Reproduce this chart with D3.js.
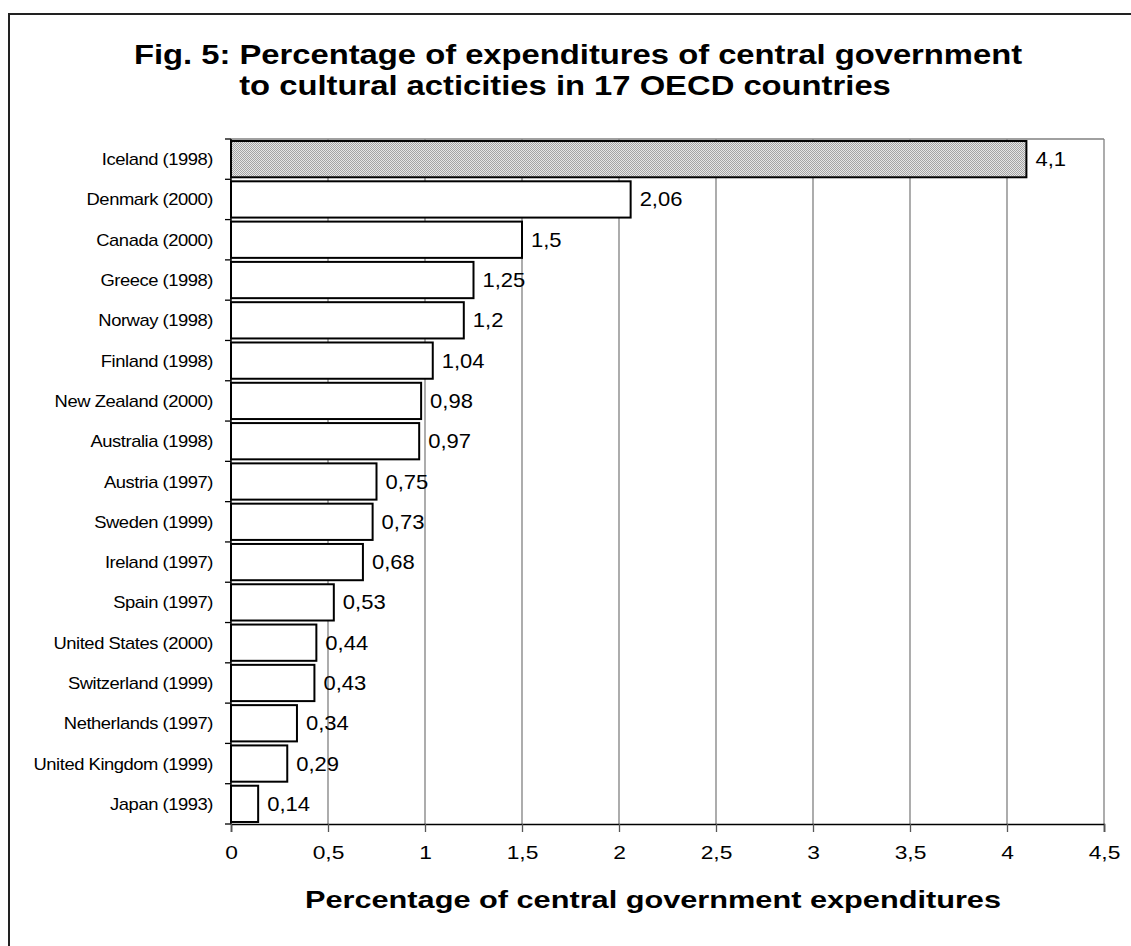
<!DOCTYPE html>
<html>
<head>
<meta charset="utf-8">
<script src="https://cdn.jsdelivr.net/npm/d3@7"></script>
<style>
  html, body { margin: 0; padding: 0; background: #fff; }
  svg { display: block; }
  text { font-family: "Liberation Sans", Arial, sans-serif; fill: #000; }
</style>
</head>
<body>
<svg id="chart" width="1131" height="946"></svg>
<script>
const countries = [
  "Iceland (1998)", "Denmark (2000)", "Canada (2000)", "Greece (1998)", "Norway (1998)",
  "Finland (1998)", "New Zealand (2000)", "Australia (1998)", "Austria (1997)", "Sweden (1999)",
  "Ireland (1997)", "Spain (1997)", "United States (2000)", "Switzerland (1999)",
  "Netherlands (1997)", "United Kingdom (1999)", "Japan (1993)"
];
const values = [4.1, 2.06, 1.5, 1.25, 1.2, 1.04, 0.98, 0.97, 0.75, 0.73, 0.68, 0.53, 0.44, 0.43, 0.34, 0.29, 0.14];
const highlighted = ["Iceland (1998)"];
const xTicks = [0, 0.5, 1, 1.5, 2, 2.5, 3, 3.5, 4, 4.5];
const titleLines = ["Fig. 5: Percentage of expenditures of central government", "to cultural acticities in 17 OECD countries"];
const xTitle = "Percentage of central government expenditures";

const data = countries.map((c, i) => ({ c, v: values[i] }));
const fmt = v => String(v).replace(".", ",");

const svg = d3.select("#chart");
const plot = { left: 231, right: 1104, top: 139, bottom: 824 };

// outer frame
svg.append("rect").attr("x", 9).attr("y", 14).attr("width", 1200).attr("height", 1000)
  .attr("fill", "none").attr("stroke", "#222").attr("stroke-width", 2);

// pattern for highlighted bar
const defs = svg.append("defs");
const pat = defs.append("pattern").attr("id", "dots").attr("width", 2).attr("height", 2)
  .attr("patternUnits", "userSpaceOnUse");
pat.append("rect").attr("width", 2).attr("height", 2).attr("fill", "#e6e6e6");
pat.append("rect").attr("x", 0).attr("y", 0).attr("width", 1).attr("height", 1).attr("fill", "#a4a4a4");
pat.append("rect").attr("x", 1).attr("y", 1).attr("width", 1).attr("height", 1).attr("fill", "#a4a4a4");

// helper: horizontally stretched text (the original renders wide glyphs)
function stretchedText(g, tx, ty, sx, str, size, anchor, weight) {
  return g.append("text")
    .attr("transform", `translate(${tx},${ty}) scale(${sx},1)`)
    .attr("text-anchor", anchor)
    .attr("font-size", size)
    .attr("font-weight", weight || "normal")
    .text(str);
}

// title
stretchedText(svg, 578, 64, 1.17, titleLines[0], 28, "middle", "bold");
stretchedText(svg, 565, 95, 1.17, titleLines[1], 28, "middle", "bold");

const x = d3.scaleLinear().domain([0, 4.5]).range([plot.left, plot.right]);
const y = d3.scaleBand().domain(countries).range([plot.top, plot.bottom]).paddingInner(0.1).paddingOuter(0.05);

// gridlines
svg.append("g").selectAll("line").data(xTicks.filter(t => t > 0)).join("line")
  .attr("x1", d => x(d)).attr("x2", d => x(d))
  .attr("y1", plot.top).attr("y2", plot.bottom)
  .attr("stroke", "#808080").attr("stroke-width", 1.3);
// top border of plot
svg.append("line").attr("x1", plot.left).attr("x2", plot.right)
  .attr("y1", plot.top).attr("y2", plot.top).attr("stroke", "#808080").attr("stroke-width", 1.3);

// bars
svg.append("g").selectAll("rect").data(data).join("rect")
  .attr("x", x(0))
  .attr("y", d => y(d.c))
  .attr("width", d => x(d.v) - x(0))
  .attr("height", y.bandwidth())
  .attr("fill", d => highlighted.includes(d.c) ? "url(#dots)" : "#fff")
  .attr("stroke", "#000").attr("stroke-width", 2);

// value labels
const gv = svg.append("g");
data.forEach(d => {
  stretchedText(gv, x(d.v) + 9, y(d.c) + y.bandwidth() / 2 + 7, 1.1, fmt(d.v), 20, "start");
});

// y axis (category)
const boundaries = d3.range(countries.length + 1).map(i => plot.top + i * (plot.bottom - plot.top) / countries.length);
svg.append("g").selectAll("line").data(boundaries).join("line")
  .attr("x1", plot.left - 6).attr("x2", plot.left)
  .attr("y1", d => d).attr("y2", d => d)
  .attr("stroke", "#000").attr("stroke-width", 1.3);
svg.append("line").attr("x1", plot.left).attr("x2", plot.left)
  .attr("y1", plot.top).attr("y2", plot.bottom).attr("stroke", "#000").attr("stroke-width", 1.5);
const gy = svg.append("g");
countries.forEach(c => {
  stretchedText(gy, plot.left - 18, y(c) + y.bandwidth() / 2 + 6, 1.15, c, 16, "end")
    .attr("letter-spacing", "-0.4");
});

// x axis
const xAxis = d3.axisBottom(x).tickValues(xTicks).tickSize(8).tickPadding(14).tickFormat(fmt);
const gx = svg.append("g").attr("transform", `translate(0,${plot.bottom})`).call(xAxis);
gx.select(".domain").attr("stroke", "#000").attr("stroke-width", 1.5);
gx.selectAll(".tick line").attr("stroke", "#555").attr("stroke-width", 1.3);
gx.selectAll(".tick text").attr("font-size", 19)
  .attr("font-family", "'Liberation Sans', Arial, sans-serif").attr("fill", "#000")
  .attr("transform", "scale(1.2,1)");

stretchedText(svg, 653, 908, 1.28, xTitle, 24, "middle", "bold");
</script>
</body>
</html>
